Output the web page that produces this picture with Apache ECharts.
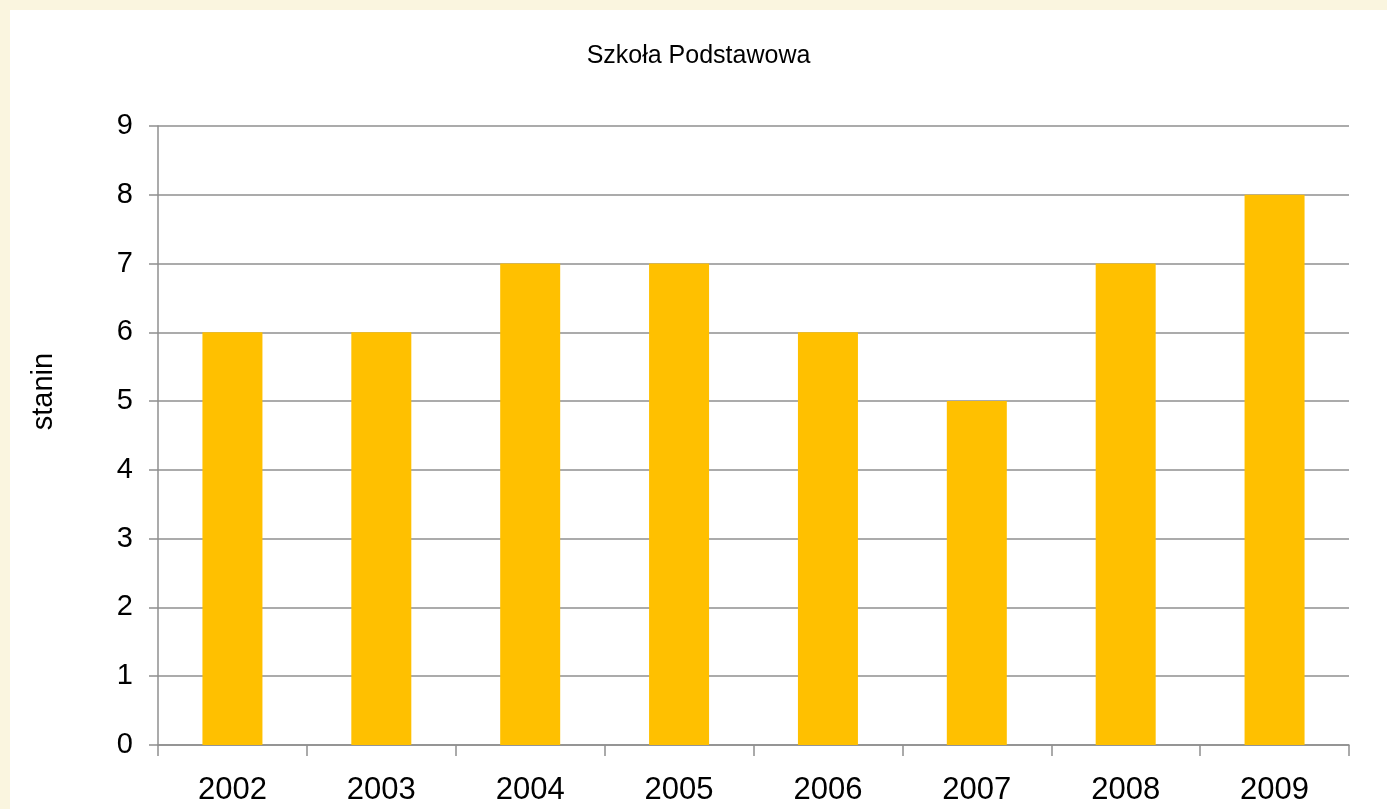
<!DOCTYPE html>
<html>
<head>
<meta charset="utf-8">
<script src="https://cdn.jsdelivr.net/npm/echarts@6/dist/echarts.min.js"></script>
<style>
html,body{margin:0;padding:0;background:#FAF5DF;width:1387px;height:809px;overflow:hidden;}
#wrap{position:absolute;left:10px;top:10px;width:1377px;height:799px;background:#ffffff;}
#chart{width:1377px;height:799px;}
</style>
</head>
<body>
<div id="wrap"><div id="chart"></div></div>
<script>
const titleText = 'Szkoła Podstawowa';
const yAxisName = 'stanin';
const years = ['2002','2003','2004','2005','2006','2007','2008','2009'];
const staninValues = [6, 6, 7, 7, 6, 5, 7, 8];

const chart = echarts.init(document.getElementById('chart'), null, {renderer:'canvas'});
const fontFam = '"Liberation Sans", Arial, sans-serif';
chart.setOption({
  animation: false,
  backgroundColor: '#ffffff',
  title: {
    text: titleText,
    left: 'center',
    top: 29,
    textStyle: {fontFamily: fontFam, fontSize: 25, fontWeight: 'normal', color: '#000'}
  },
  grid: {left: 148, right: 38, top: 116, bottom: 64, containLabel: false},
  xAxis: {
    type: 'category',
    data: years,
    axisLine: {show: true, lineStyle: {color: '#8f8f8f', width: 1.5}},
    axisTick: {show: true, alignWithLabel: false, length: 11, lineStyle: {color: '#8f8f8f', width: 1.5}},
    axisLabel: {fontFamily: fontFam, fontSize: 31, color: '#000', margin: 30, interval: 0},
    splitLine: {show: false}
  },
  yAxis: {
    type: 'value',
    min: 0, max: 9, interval: 1,
    name: yAxisName,
    nameLocation: 'middle',
    nameRotate: 90,
    nameGap: 100,
    nameTextStyle: {fontFamily: fontFam, fontSize: 29, color: '#000', padding: [0, 0, 0, 88]},
    axisLine: {show: true, lineStyle: {color: '#8f8f8f', width: 1.5}},
    axisTick: {show: true, inside: false, length: 9, lineStyle: {color: '#8f8f8f', width: 1.5}},
    axisLabel: {fontFamily: fontFam, fontSize: 29, color: '#000', margin: 25},
    splitLine: {show: true, lineStyle: {color: '#8f8f8f', width: 1.5}}
  },
  series: [{
    type: 'bar',
    data: staninValues,
    barWidth: 60,
    itemStyle: {color: '#FFC000'}
  }]
});
</script>
</body>
</html>
